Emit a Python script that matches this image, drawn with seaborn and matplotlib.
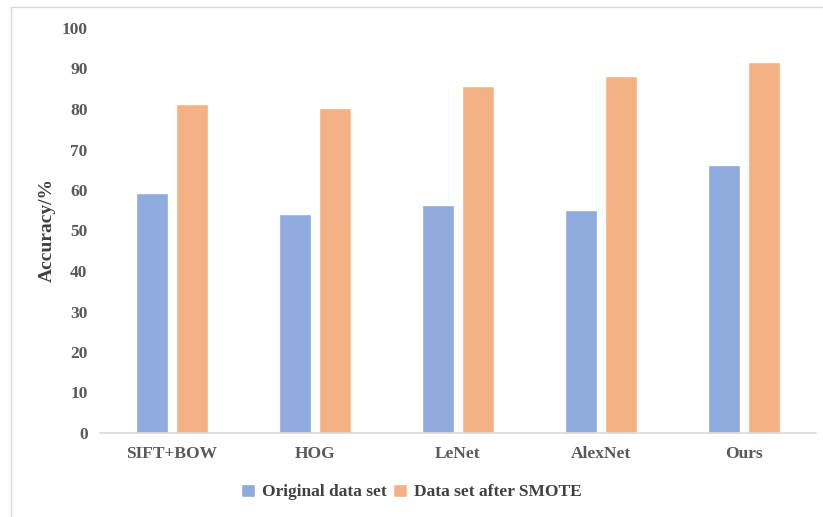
import matplotlib
matplotlib.use("Agg")
import matplotlib.pyplot as plt
import seaborn as sns
import pandas as pd
from matplotlib.patches import Rectangle

categories = ["SIFT+BOW", "HOG", "LeNet", "AlexNet", "Ours"]
original = [59.2, 54.1, 56.2, 55.1, 66.2]
smote = [81.2, 80.2, 85.8, 88.2, 91.5]
series_names = ["Original data set", "Data set after SMOTE"]
yticks = [0, 10, 20, 30, 40, 50, 60, 70, 80, 90, 100]

df = pd.DataFrame({
    "Method": categories * 2,
    "Accuracy": original + smote,
    "Series": [series_names[0]] * len(categories) + [series_names[1]] * len(categories),
})

sns.set_theme(style="white")
plt.rcParams["font.family"] = ["Liberation Serif", "DejaVu Serif"]
plt.rcParams["font.weight"] = "bold"

fig = plt.figure(figsize=(8.23, 5.17), dpi=100)
ax = fig.add_axes([100 / 823, 1 - 433 / 517, 716 / 823, (433 - 28) / 517])

palette = {series_names[0]: "#8FAADC", series_names[1]: "#F4B183"}
sns.barplot(data=df, x="Method", y="Accuracy", hue="Series", palette=palette,
            ax=ax, width=0.56, gap=0.2, saturation=1, legend=True)

ax.set_ylim(0, 100)
ax.set_yticks(yticks)
ax.set_xlim(-0.5, 4.5)
for s in ["top", "right", "left"]:
    ax.spines[s].set_visible(False)
ax.spines["bottom"].set_color("#D9D9D9")
ax.spines["bottom"].set_linewidth(1.2)
ax.tick_params(axis="both", length=0, colors="#595959", labelsize=12.5)
ax.tick_params(axis="y", pad=9)
ax.tick_params(axis="x", pad=9)
for lbl in ax.get_xticklabels() + ax.get_yticklabels():
    lbl.set_fontweight("bold")
ax.set_xlabel("")
ax.set_ylabel("Accuracy/%", fontsize=14, fontweight="bold", color="#404040", labelpad=4)

handles, labels = ax.get_legend_handles_labels()
ax.legend_.remove()
fig.legend(handles, labels, loc="center", bbox_to_anchor=(0.5, 1 - 492 / 517), ncol=2,
           frameon=False, handlelength=0.8, handleheight=0.8,
           handletextpad=0.4, columnspacing=0.4, prop={"weight": "bold", "size": 12.5})
for t in fig.legends[0].get_texts():
    t.set_color("#404040")

fig.patches.append(Rectangle((11 / 823, -0.01), 1.0, 1 - 7 / 517 + 0.01,
                             transform=fig.transFigure, fill=False,
                             edgecolor="#D9D9D9", linewidth=1.0))

fig.savefig("out.png", dpi=100)
